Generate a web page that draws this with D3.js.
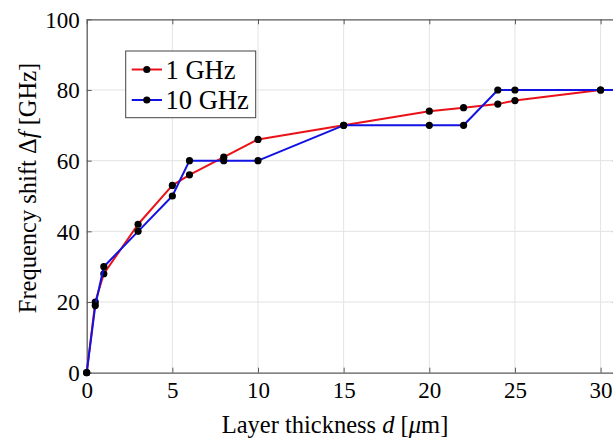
<!DOCTYPE html>
<html>
<head>
<meta charset="utf-8">
<script src="https://cdnjs.cloudflare.com/ajax/libs/d3/7.8.5/d3.min.js"></script>
<style>
  html, body { margin: 0; padding: 0; background: #fff; overflow: hidden; }
  svg { display: block; }
  text { font-family: "Liberation Serif", "Times New Roman", serif; fill: #000; }
</style>
</head>
<body>
<svg id="chart" width="613" height="441"></svg>
<script>
// ---- data ----
const thickness1 = [0, 0.5, 1, 3, 5, 6, 8, 10, 15, 20, 22, 24, 25, 30, 35];
const shift1GHz  = [0, 20, 28, 42, 53, 56, 61, 66, 70, 74, 75, 76, 77, 80, 80];
const thickness10 = [0, 0.5, 1, 3, 5, 6, 8, 10, 15, 20, 22, 24, 25, 30, 35];
const shift10GHz  = [0, 19, 30, 40, 50, 60, 60, 60, 70, 70, 70, 80, 80, 80, 80];
const seriesNames = ["1 GHz", "10 GHz"];
const seriesColors = ["#ea1218", "#1212e2"];
const xTicks = [0, 5, 10, 15, 20, 25, 30];
const yTicks = [0, 20, 40, 60, 80, 100];

const svg = d3.select("#chart");
const L = 86.7, T = 19.3, B = 372.7;
const x = d3.scaleLinear().domain([0, 31]).range([L, L + 31 * (600.6 - 86.7) / 30]);
const y = d3.scaleLinear().domain([0, 100]).range([B, T]);
const R = x(31);

svg.append("defs").append("clipPath").attr("id", "clip")
  .append("rect").attr("x", L - 6).attr("y", T - 6).attr("width", R - L + 6).attr("height", B - T + 12);

// grid
const grid = svg.append("g");
grid.selectAll("line.gx").data(xTicks.filter(d => d > 0)).enter().append("line")
  .attr("x1", d => x(d)).attr("x2", d => x(d)).attr("y1", T).attr("y2", B)
  .attr("stroke", "#e3e3e3").attr("stroke-width", 1);
grid.selectAll("line.gy").data(yTicks.filter(d => d > 0 && d < 100)).enter().append("line")
  .attr("x1", L).attr("x2", R).attr("y1", d => y(d)).attr("y2", d => y(d))
  .attr("stroke", "#e3e3e3").attr("stroke-width", 1);

// axes (ticks inward)
const axisColor = "#5a5a5a";
const xAxis = svg.append("g").attr("transform", `translate(0,${B})`)
  .call(d3.axisBottom(x).tickValues(xTicks).tickSizeInner(-5).tickSizeOuter(0).tickPadding(9));
const xAxisTop = svg.append("g").attr("transform", `translate(0,${T})`)
  .call(d3.axisTop(x).tickValues(xTicks).tickSizeInner(-5).tickSizeOuter(0).tickFormat(""));
const yAxis = svg.append("g").attr("transform", `translate(${L},0)`)
  .call(d3.axisLeft(y).tickValues(yTicks).tickSizeInner(-5).tickSizeOuter(0).tickPadding(7));
const yAxisR = svg.append("g").attr("transform", `translate(${R},0)`)
  .call(d3.axisRight(y).tickValues(yTicks).tickSizeInner(-5).tickSizeOuter(0).tickFormat(""));
[xAxis, xAxisTop, yAxis, yAxisR].forEach(g => {
  g.select(".domain").attr("stroke", axisColor).attr("stroke-width", 1.3);
  g.selectAll(".tick line").attr("stroke", axisColor).attr("stroke-width", 1);
  g.selectAll(".tick text").attr("font-family", "Liberation Serif").attr("font-size", 23).attr("fill", "#000");
});
xAxis.selectAll(".tick text").attr("dy", "0.71em");
yAxis.selectAll(".tick text").attr("dy", "0.34em");

// lines
const plot = svg.append("g").attr("clip-path", "url(#clip)");
const line = d3.line().x(d => x(d[0])).y(d => y(d[1]));
const series = [
  d3.zip(thickness1, shift1GHz),
  d3.zip(thickness10, shift10GHz)
];
series.forEach((pts, i) => {
  plot.append("path").datum(pts).attr("d", line)
    .attr("fill", "none").attr("stroke", seriesColors[i]).attr("stroke-width", 2)
    .attr("stroke-linejoin", "round");
  plot.selectAll(null).data(pts).enter().append("circle")
    .attr("cx", d => x(d[0])).attr("cy", d => y(d[1])).attr("r", 3.6).attr("fill", "#000");
});

// legend
const lg = svg.append("g");
lg.append("rect").attr("x", 125.7).attr("y", 51).attr("width", 130).attr("height", 66.7)
  .attr("fill", "#fff").attr("stroke", "#444").attr("stroke-width", 1);
seriesNames.forEach((name, i) => {
  const cy = 69.5 + i * 30.5;
  lg.append("line").attr("x1", 131.7).attr("x2", 162).attr("y1", cy).attr("y2", cy)
    .attr("stroke", seriesColors[i]).attr("stroke-width", 2);
  lg.append("circle").attr("cx", 146.8).attr("cy", cy).attr("r", 3.6).attr("fill", "#000");
  lg.append("text").attr("x", 165.5).attr("y", cy).attr("dy", "0.35em")
    .attr("font-size", 26.5).text(name);
});

// axis titles
const xt = svg.append("text").attr("x", 335).attr("y", 433)
  .attr("text-anchor", "middle").attr("font-size", 24.5);
xt.append("tspan").text("Layer thickness ");
xt.append("tspan").attr("font-style", "italic").text("d");
xt.append("tspan").text(" [");
xt.append("tspan").attr("font-style", "italic").text("μ");
xt.append("tspan").text("m]");

const yt = svg.append("text").attr("transform", `translate(36,188) rotate(-90)`)
  .attr("text-anchor", "middle").attr("font-size", 24.5);
yt.append("tspan").text("Frequency shift Δ");
yt.append("tspan").attr("font-style", "italic").text("f");
yt.append("tspan").text(" [GHz]");
</script>
</body>
</html>
